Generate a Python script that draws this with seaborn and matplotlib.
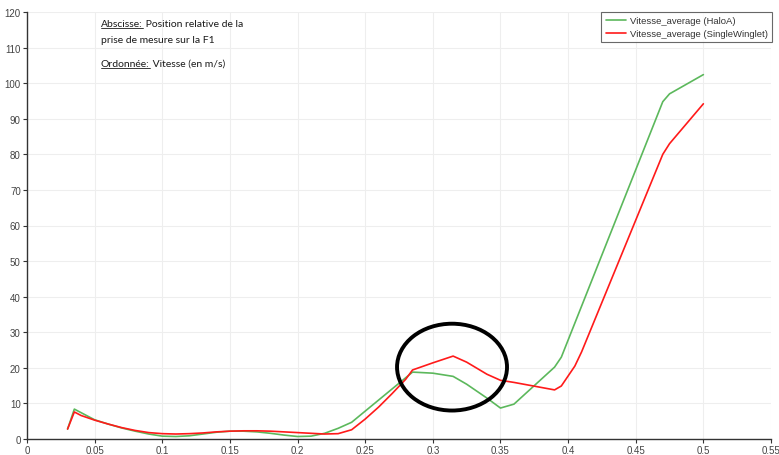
import matplotlib
matplotlib.use("Agg")
import matplotlib.pyplot as plt
from matplotlib.patches import Ellipse
from matplotlib.lines import Line2D
import pandas as pd
import seaborn as sns

# Position relative de la prise de mesure (abscisse) et vitesse moyenne (m/s)
halo_x = [0.030, 0.035, 0.040, 0.050, 0.060, 0.070, 0.080, 0.090, 0.100, 0.110,
          0.120, 0.130, 0.140, 0.150, 0.160, 0.170, 0.180, 0.190, 0.200, 0.210,
          0.220, 0.230, 0.240, 0.285, 0.300, 0.315, 0.325, 0.340, 0.350, 0.360,
          0.390, 0.395, 0.470, 0.475, 0.500]
halo_y = [2.8, 8.4, 7.4, 5.4, 4.2, 3.1, 2.2, 1.4, 0.8, 0.7,
          0.9, 1.4, 1.9, 2.2, 2.2, 2.0, 1.6, 1.1, 0.7, 0.8,
          1.6, 3.0, 4.7, 18.8, 18.5, 17.6, 15.4, 11.5, 8.7, 9.8,
          20.2, 23.0, 94.8, 97.0, 102.4]

winglet_x = [0.030, 0.035, 0.040, 0.050, 0.060, 0.070, 0.080, 0.090, 0.100, 0.110,
             0.120, 0.130, 0.140, 0.150, 0.160, 0.170, 0.180, 0.190, 0.200, 0.210,
             0.220, 0.230, 0.240, 0.250, 0.260, 0.270, 0.280, 0.285, 0.300, 0.315,
             0.325, 0.340, 0.350, 0.360, 0.390, 0.395, 0.405, 0.410, 0.470, 0.475,
             0.500]
winglet_y = [2.8, 7.6, 6.6, 5.3, 4.2, 3.2, 2.4, 1.8, 1.5, 1.4,
             1.5, 1.7, 2.0, 2.2, 2.3, 2.3, 2.2, 2.0, 1.8, 1.6,
             1.4, 1.5, 2.6, 5.6, 9.0, 12.8, 16.8, 19.4, 21.4, 23.3,
             21.6, 18.2, 16.5, 15.9, 13.8, 14.9, 20.5, 24.5, 80.0, 83.0,
             94.2]

series_names = ["Vitesse_average (HaloA)", "Vitesse_average (SingleWinglet)"]
series_colors = ["#5cb85c", "#ff1a1a"]

x_ticks = [0, 0.05, 0.1, 0.15, 0.2, 0.25, 0.3, 0.35, 0.4, 0.45, 0.5, 0.55]
x_tick_labels = ["0", "0.05", "0.1", "0.15", "0.2", "0.25", "0.3", "0.35", "0.4", "0.45", "0.5", "0.55"]
y_ticks = list(range(0, 121, 10))

df = pd.concat([
    pd.DataFrame({"x": halo_x, "y": halo_y, "serie": series_names[0]}),
    pd.DataFrame({"x": winglet_x, "y": winglet_y, "serie": series_names[1]}),
], ignore_index=True)

sns.set_theme(style="white")
plt.rcParams["font.family"] = ["Liberation Sans", "DejaVu Sans"]

fig = plt.figure(figsize=(7.79, 4.56), dpi=100)
ax = fig.add_axes([27 / 779, 16 / 456, (771 - 27) / 779, (440 - 13) / 456])

sns.lineplot(data=df, x="x", y="y", hue="serie", palette=dict(zip(series_names, series_colors)),
             sort=False, estimator=None, linewidth=1.2, ax=ax, legend=False)

ax.set_xlim(0, 0.55)
ax.set_ylim(0, 120)
ax.set_xticks(x_ticks)
ax.set_xticklabels(x_tick_labels)
ax.set_yticks(y_ticks)
ax.set_xlabel("")
ax.set_ylabel("")

ax.grid(True, color="#eeeeee", linewidth=0.8)
ax.set_axisbelow(True)
for side in ["top", "right"]:
    ax.spines[side].set_visible(False)
for side in ["left", "bottom"]:
    ax.spines[side].set_color("#333333")
    ax.spines[side].set_linewidth(1.0)
ax.tick_params(axis="both", which="both", direction="out", length=3, width=0.8,
               color="#333333", labelcolor="#444444", labelsize=7, pad=1.5)
ax.tick_params(axis="x", bottom=True)
ax.tick_params(axis="y", left=True)

# Légende
handles = [Line2D([], [], color=c, linewidth=1.2) for c in series_colors]
leg = ax.legend(handles, series_names, loc="upper right", bbox_to_anchor=(1.002, 1.0),
                fontsize=6.8, frameon=True, fancybox=False, handlelength=2.2,
                handletextpad=0.4, borderpad=0.45, labelspacing=0.4, borderaxespad=0.0)
leg.get_frame().set_edgecolor("#444444")
leg.get_frame().set_linewidth(0.8)
for t in leg.get_texts():
    t.set_color("#333333")

# Zone d'intérêt entourée
ax.add_patch(Ellipse((0.3142, 20.2), width=0.0813, height=24.4, fill=False,
                     edgecolor="black", linewidth=2.8, zorder=5))

# Texte explicatif avec libellés soulignés
note_font = dict(fontsize=7.5, family=["Lato", "DejaVu Sans"], color="#1a1a1a")
fig.canvas.draw()
renderer = fig.canvas.get_renderer()
fig_w_px = fig.dpi * fig.get_figwidth()
fig_h_px = fig.dpi * fig.get_figheight()


def underlined(x, y, label, rest):
    t = fig.text(x, y, label, ha="left", va="baseline", **note_font)
    bb = t.get_window_extent(renderer)
    y0 = bb.y0 / fig_h_px
    fig.add_artist(Line2D([bb.x0 / fig_w_px, bb.x1 / fig_w_px],
                          [y0 + 0.001, y0 + 0.001], color="#1a1a1a", linewidth=0.6))
    fig.text(bb.x1 / fig_w_px, y, " " + rest, ha="left", va="baseline", **note_font)


underlined(101 / 779, 1 - 27 / 456, "Abscisse:", "Position relative de la")
fig.text(101 / 779, 1 - 43 / 456, "prise de mesure sur la F1", ha="left", va="baseline", **note_font)
underlined(101 / 779, 1 - 67 / 456, "Ordonnée:", "Vitesse (en m/s)")

fig.savefig("out.png", dpi=100, facecolor="white")
